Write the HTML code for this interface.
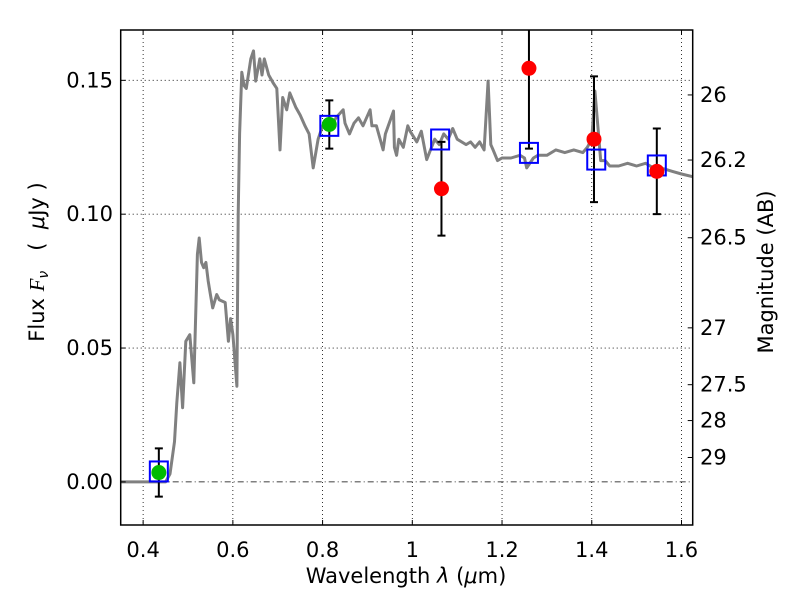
<!DOCTYPE html>
<html><head><meta charset="utf-8"><style>
body{margin:0;background:#fff}
svg text{font-family:"DejaVu Sans","Liberation Sans",sans-serif;fill:#000}
</style></head><body>
<svg id="chart" width="800" height="600" xmlns="http://www.w3.org/2000/svg">
<g id="grid"></g>
<g id="spec"></g>
<g id="marks"></g>
<g id="axes"></g>
</svg>
<script>
const specWave=[0.35,0.45,0.46,0.47,0.475,0.482,0.488,0.495,0.504,0.513,0.521,0.525,0.53,0.535,0.54,0.545,0.55,0.555,0.564,0.57,0.583,0.59,0.595,0.60,0.609,0.612,0.615,0.62,0.625,0.63,0.64,0.646,0.651,0.66,0.665,0.67,0.68,0.69,0.698,0.705,0.711,0.72,0.727,0.74,0.75,0.761,0.77,0.779,0.79,0.80,0.82,0.83,0.846,0.85,0.86,0.87,0.88,0.89,0.906,0.91,0.92,0.93,0.935,0.94,0.958,0.96,0.965,0.97,0.98,0.99,0.995,1.01,1.02,1.032,1.05,1.06,1.07,1.08,1.09,1.10,1.12,1.13,1.14,1.15,1.16,1.169,1.175,1.18,1.19,1.20,1.22,1.24,1.25,1.255,1.27,1.28,1.30,1.32,1.34,1.36,1.38,1.39,1.40,1.407,1.415,1.42,1.43,1.44,1.46,1.48,1.50,1.52,1.54,1.56,1.58,1.60,1.625];
const specFlux=[0,0,0.003,0.015,0.0295,0.0445,0.0277,0.0525,0.055,0.037,0.085,0.0911,0.082,0.08,0.082,0.075,0.07,0.065,0.07,0.068,0.067,0.0525,0.061,0.055,0.0357,0.1,0.13,0.153,0.148,0.147,0.158,0.161,0.1497,0.158,0.152,0.158,0.152,0.149,0.147,0.124,0.1436,0.139,0.1453,0.14,0.137,0.1329,0.13,0.1173,0.128,0.133,0.133,0.136,0.139,0.134,0.13,0.134,0.136,0.133,0.139,0.133,0.133,0.127,0.124,0.13,0.1385,0.125,0.122,0.128,0.125,0.133,0.131,0.127,0.131,0.1204,0.128,0.126,0.13,0.128,0.132,0.128,0.126,0.127,0.125,0.127,0.124,0.1497,0.126,0.124,0.12,0.121,0.121,0.122,0.121,0.1173,0.121,0.122,0.122,0.124,0.123,0.124,0.123,0.125,0.128,0.146,0.13,0.12,0.12,0.118,0.118,0.119,0.118,0.119,0.117,0.117,0.116,0.115,0.114];
const obsWave=[0.435,0.815,1.065,1.26,1.405,1.545];
const obsFlux=[0.0035,0.1335,0.1095,0.1545,0.128,0.116];
const obsErr=[0.009,0.009,0.0175,0.030,0.0235,0.016];
const obsColor=["#00bb00","#00bb00","#ff0000","#ff0000","#ff0000","#ff0000"];
const synWave=[0.435,0.815,1.062,1.26,1.41,1.545];
const synFlux=[0.0039,0.133,0.1279,0.1229,0.1204,0.1182];
const xTicks=[0.4,0.6,0.8,1.0,1.2,1.4,1.6];
const xTickLabels=["0.4","0.6","0.8","1","1.2","1.4","1.6"];
const yTicks=[0,0.05,0.10,0.15];
const yTickLabels=["0.00","0.05","0.10","0.15"];
const magTicks=[26,26.2,26.5,27,27.5,28,29];
const magLabels=["26","26.2","26.5","27","27.5","28","29"];

const L=120.7,R=692.7,T=30,B=525;
const X0=0.35,X1=1.625,Y0=-0.0161,Y1=0.1688;
const sx=v=>L+(v-X0)/(X1-X0)*(R-L);
const sy=v=>B-(v-Y0)/(Y1-Y0)*(B-T);
const NS="http://www.w3.org/2000/svg";
function mk(parent,tag,attrs,text){const e=document.createElementNS(NS,tag);for(const k in attrs)e.setAttribute(k,attrs[k]);if(text!==undefined)e.textContent=text;parent.appendChild(e);return e;}
const grid=document.getElementById('grid'),spec=document.getElementById('spec'),marks=document.getElementById('marks'),axes=document.getElementById('axes');

xTicks.forEach((t,i)=>{
  const g=mk(grid,'line',{x1:sx(t),x2:sx(t),y1:T,y2:B,stroke:'#000','stroke-width':0.8,'stroke-dasharray':'1,3'});
  
  
  const tk=mk(axes,'line',{x1:sx(t),x2:sx(t),y1:B,y2:B-5,stroke:'#000'});
  
  
  const tk2=mk(axes,'line',{x1:sx(t),x2:sx(t),y1:T,y2:T+5,stroke:'#000'});
  
  
  const lb=mk(axes,'text',{x:sx(t),y:557,'font-size':21,'text-anchor':'middle'},xTickLabels[i]);
  
  
});
yTicks.forEach((t,i)=>{
  const g=mk(grid,'line',{x1:L,x2:R,y1:sy(t),y2:sy(t),stroke:'#000','stroke-width':0.8,'stroke-dasharray':t===0?'6,3,1,3':'1,3'});
  
  
  const tk=mk(axes,'line',{x1:L,x2:L+5,y1:sy(t),y2:sy(t),stroke:'#000'});
  
  
  const lb=mk(axes,'text',{x:113,y:sy(t)+7,'font-size':21,'text-anchor':'end'},yTickLabels[i]);
  
  
});
magTicks.forEach((m,i)=>{
  const f=Math.pow(10,(23.9-m)/2.5);
  const y=sy(f);
  const tk=mk(axes,'line',{x1:R,x2:R-5,y1:y,y2:y,stroke:'#000'});
  
  
  const lb=mk(axes,'text',{x:700,y:y+7,'font-size':21},magLabels[i]);
  
  
});

const pts=specWave.map((w,i)=>sx(w).toFixed(1)+','+sy(specFlux[i]).toFixed(1)).join(' ');
const pl=mk(spec,'polyline',{points:pts,fill:'none',stroke:'#808080','stroke-width':3,'stroke-linejoin':'round'});



const clip=mk(document.getElementById('chart'),'clipPath',{id:'pc'});
mk(clip,'rect',{x:L,y:T,width:R-L,height:B-T});
marks.setAttribute('clip-path','url(#pc)');

obsWave.forEach((w,i)=>{
  const x=sx(w),yt=sy(obsFlux[i]+obsErr[i]),yb=sy(obsFlux[i]-obsErr[i]);
  const eb=mk(marks,'path',{d:`M${x},${yt}V${yb}M${x-4},${yt}H${x+4}M${x-4},${yb}H${x+4}`,stroke:'#000','stroke-width':2,fill:'none'});
  
  
});
synWave.forEach((w,i)=>{
  const s=mk(marks,'rect',{x:sx(w)-9,y:sy(synFlux[i])-10,width:18,height:20,fill:'none',stroke:'#0000ff','stroke-width':2});
  
  
});
obsWave.forEach((w,i)=>{
  const c=mk(marks,'circle',{cx:sx(w),cy:sy(obsFlux[i]),r:7.5,fill:obsColor[i]});
  
  
});

const fr=mk(axes,'rect',{x:L,y:T,width:R-L,height:B-T,fill:'none',stroke:'#000','stroke-width':1.5});


const xt=mk(axes,'text',{x:406,y:583,'font-size':21,'text-anchor':'middle'});


xt.innerHTML='Wavelength  <tspan font-style="italic">λ</tspan> (<tspan font-style="italic">μ</tspan>m)';
const yt=mk(axes,'text',{x:0,y:0,'font-size':21,'text-anchor':'middle',transform:'translate(44,262) rotate(-90)'});


yt.innerHTML='Flux  <tspan font-style="italic" font-family="Liberation Serif">F</tspan><tspan font-style="italic" font-size="14" dy="4">ν</tspan><tspan dy="-4" xml:space="preserve">   (  </tspan><tspan font-style="italic">μ</tspan>Jy )';
const rt=mk(axes,'text',{x:0,y:0,'font-size':21,'text-anchor':'middle',transform:'translate(773,272) rotate(-90)'},'Magnitude (AB)');


</script>
</body></html>
